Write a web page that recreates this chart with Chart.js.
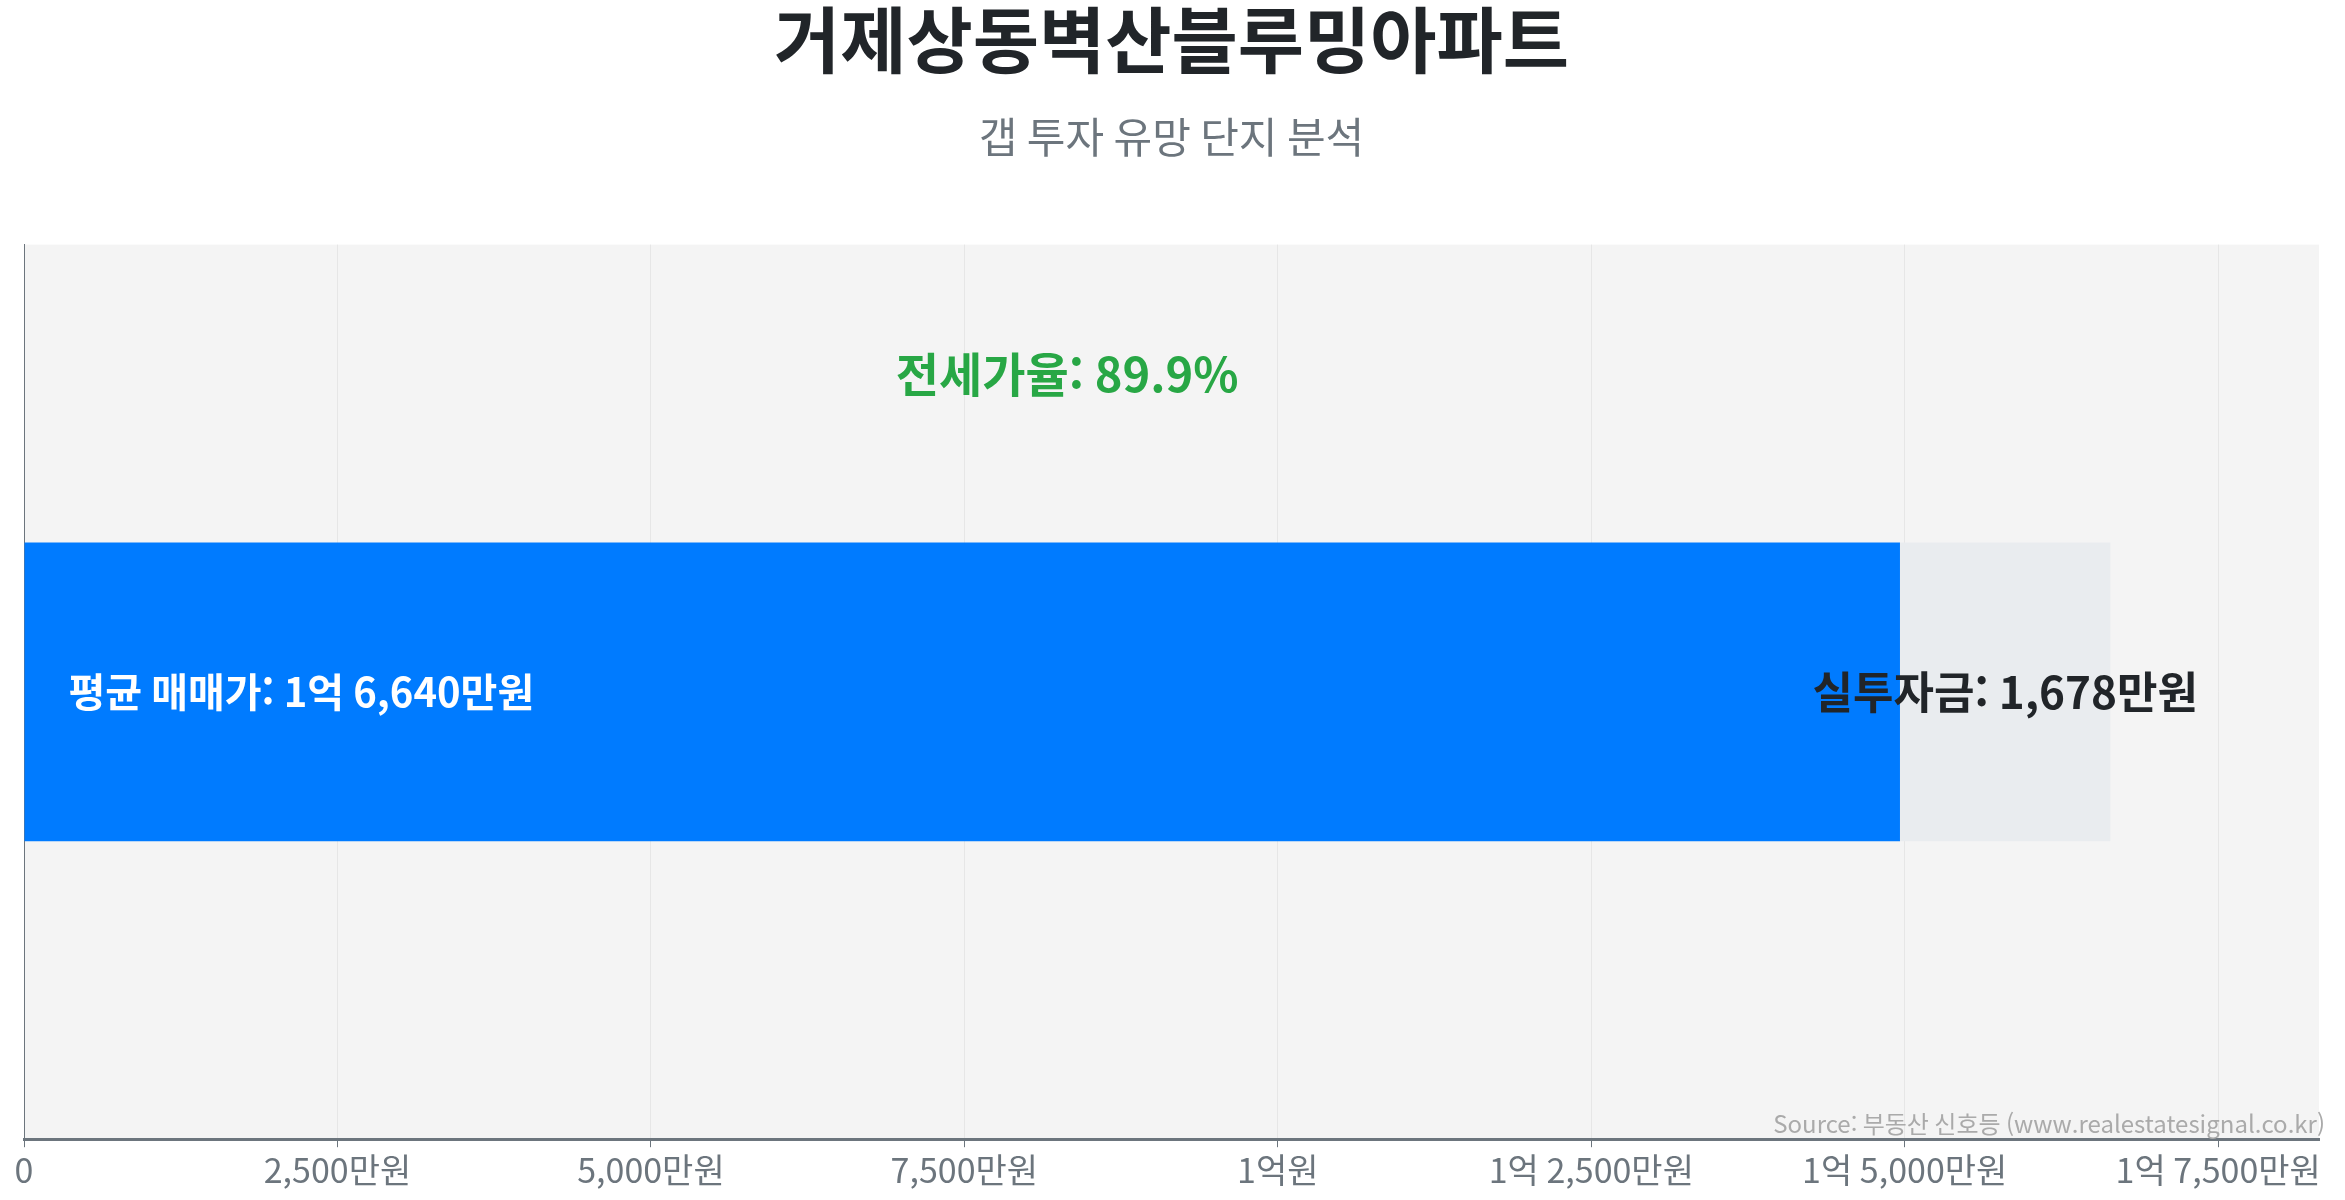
<!DOCTYPE html>
<html lang="ko">
<head>
<meta charset="utf-8">
<script src="https://cdn.jsdelivr.net/npm/chart.js@4"></script>
<style>
  html, body { margin: 0; padding: 0; background: #ffffff; }
  #wrap { width: 2345px; height: 1200px; position: relative; }
</style>
</head>
<body>
<div id="wrap"><canvas id="c"></canvas></div>
<script>
const categories = ['거제상동벽산블루밍아파트'];
const jeonseValues = [14962];     // 전세가 (만원)
const gapValues = [1678];         // 실투자금 (만원)
const priceValues = [16640];      // 평균 매매가 (만원)
const jeonseRatio = [89.9];       // 전세가율 (%)
const axisMax = [18304];
const tickValues = [0, 2500, 5000, 7500, 10000, 12500, 15000, 17500];
const tickLabels = ['0', '2,500만원', '5,000만원', '7,500만원', '1억원', '1억 2,500만원', '1억 5,000만원', '1억 7,500만원'];

const FONT = '"Noto Sans CJK KR", "Noto Sans", sans-serif';

const bgPlugin = {
  id: 'areaBg',
  beforeDraw(chart) {
    const { ctx, chartArea: a } = chart;
    ctx.save();
    ctx.fillStyle = '#f4f4f4';
    ctx.fillRect(a.left, a.top, a.right - a.left, a.bottom - a.top);
    ctx.restore();
  }
};

const labelPlugin = {
  id: 'barLabels',
  afterDatasetsDraw(chart) {
    const { ctx, chartArea: a } = chart;
    const xs = chart.scales.x;
    const b0 = chart.getDatasetMeta(0).data[0];
    const b1 = chart.getDatasetMeta(1).data[0];
    ctx.save();
    ctx.textBaseline = 'middle';
    // price label
    ctx.font = 'bold 40px ' + FONT;
    ctx.fillStyle = '#ffffff';
    ctx.textAlign = 'left';
    ctx.fillText('평균 매매가: 1억 6,640만원', b0.base + 44, b0.y);
    // gap label
    ctx.font = 'bold 44px ' + FONT;
    ctx.fillStyle = '#212529';
    ctx.textAlign = 'center';
    ctx.fillText('실투자금: ' + gapValues[0].toLocaleString('en-US') + '만원', (b1.base + b1.x) / 2, b1.y);
    // ratio label
    ctx.font = 'bold 47px ' + FONT;
    ctx.fillStyle = '#28a745';
    ctx.fillText('전세가율: ' + jeonseRatio[0] + '%', xs.getPixelForValue(priceValues[0] / 2), b0.y - b0.height / 2 - 168);
    // source
    ctx.font = '24px ' + FONT;
    ctx.fillStyle = '#aaaaaa';
    ctx.textAlign = 'right';
    ctx.fillText('Source: 부동산 신호등 (www.realestatesignal.co.kr)', a.right + 6, a.bottom - 15);
    ctx.restore();
  }
};

new Chart(document.getElementById('c'), {
  type: 'bar',
  data: {
    labels: categories,
    datasets: [
      { label: '전세가', data: jeonseValues, backgroundColor: '#007bff', borderWidth: 0 },
      { label: '실투자금', data: gapValues, backgroundColor: '#e9ecef', borderWidth: 0 }
    ]
  },
  options: {
    indexAxis: 'y',
    responsive: true,
    maintainAspectRatio: false,
    animation: false,
    layout: { padding: { left: 24, right: 26, top: 0, bottom: 8 } },
    datasets: { bar: { barPercentage: 0.334, categoryPercentage: 1 } },
    plugins: {
      legend: { display: false },
      tooltip: { enabled: false },
      title: {
        display: true,
        text: categories[0],
        color: '#212529',
        font: { family: FONT, size: 72, weight: 'bold', lineHeight: 1.1 },
        padding: { top: 0, bottom: 15 }
      },
      subtitle: {
        display: true,
        text: '갭 투자 유망 단지 분석',
        color: '#6c757d',
        font: { family: FONT, size: 42, lineHeight: 1.2 },
        padding: { top: 18, bottom: 82 }
      }
    },
    scales: {
      x: {
        stacked: true,
        min: 0,
        max: axisMax[0],
        afterBuildTicks(scale) { scale.ticks = tickValues.map(v => ({ value: v })); },
        ticks: {
          includeBounds: false,
          color: '#6c757d',
          font: { family: FONT, size: 34 },
          padding: 2,
          maxRotation: 0,
          autoSkip: false,
          callback(value, index) { return tickLabels[index]; }
        },
        grid: { color: '#e6e6e6', lineWidth: 1, tickLength: 8, tickColor: '#6c757d', drawOnChartArea: true },
        border: { display: true, color: '#6c757d', width: 3 }
      },
      y: {
        stacked: true,
        ticks: { display: false },
        grid: { display: false, drawTicks: false },
        border: { display: true, color: '#6c757d', width: 1 }
      }
    }
  },
  plugins: [bgPlugin, labelPlugin]
});
</script>
</body>
</html>
